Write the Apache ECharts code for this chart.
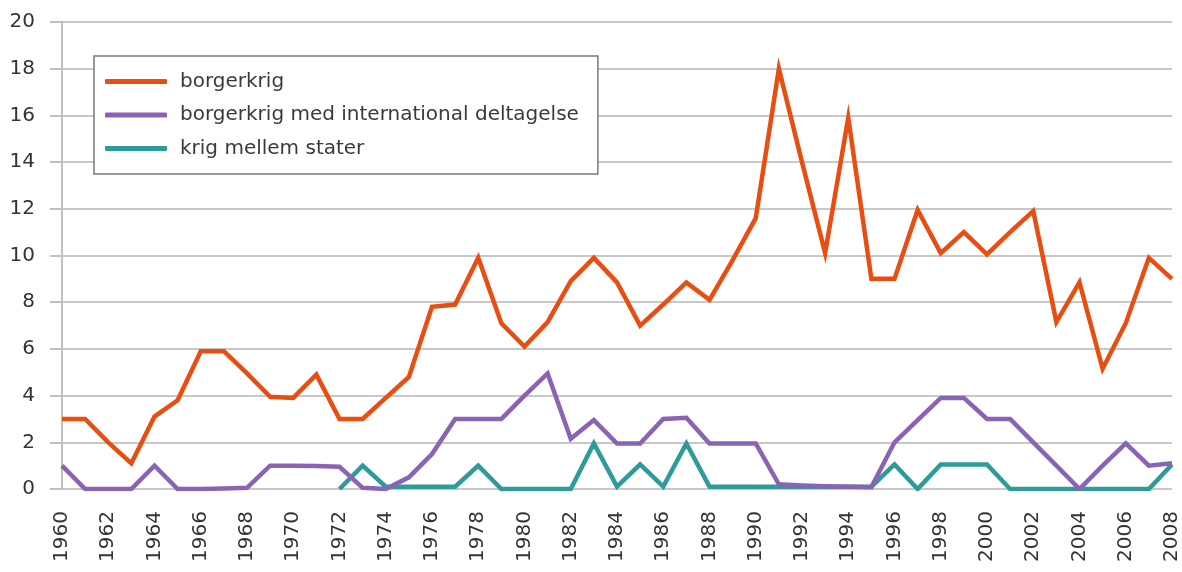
<!DOCTYPE html>
<html>
<head>
<meta charset="utf-8">
<script src="https://cdn.jsdelivr.net/npm/echarts@6/dist/echarts.min.js"></script>
<style>
html, body { margin: 0; padding: 0; background: #fff; }
#main { width: 1182px; height: 572px; }
</style>
</head>
<body>
<div id="main"></div>
<script>
// years 1960..2008
var years = [];
for (var y = 1960; y <= 2008; y++) years.push(String(y));

var borgerkrig = [
	3.0, 3.0, 2.0, 1.1, 3.1, 3.8, 5.9, 5.9, 4.95, 3.95,
	3.9, 4.9, 3.0, 3.0, 3.9, 4.8, 7.8, 7.9, 9.9, 7.1,
	6.1, 7.15, 8.9, 9.9, 8.85, 7.0, 7.9, 8.85, 8.1, 9.8,
	11.6, 18.0, 14.0, 10.1, 15.9, 9.0, 9.0, 11.95, 10.1, 11.0,
	10.05, 11.0, 11.9, 7.15, 8.85, 5.15, 7.1, 9.9, 9.0
];
var medInternational = [
	1.0, 0.0, 0.0, 0.0, 1.0, 0.0, 0.0, 0.02, 0.05, 1.0,
	1.0, 0.98, 0.95, 0.05, 0.0, 0.5, 1.5, 3.0, 3.0, 3.0,
	4.0, 4.95, 2.15, 2.95, 1.95, 1.95, 3.0, 3.05, 1.95, 1.95,
	1.95, 0.2, 0.15, 0.12, 0.1, 0.08, 2.0, 2.95, 3.9, 3.9,
	3.0, 3.0, 2.0, 1.0, 0.0, 1.0, 1.95, 1.0, 1.1
];
var mellemStater = [
	null, null, null, null, null, null, null, null, null, null,
	null, null, 0.0, 1.0, 0.1, 0.1, 0.1, 0.1, 1.0, 0.0,
	0.0, 0.0, 0.0, 1.95, 0.1, 1.05, 0.1, 1.95, 0.1, 0.1,
	0.1, 0.1, 0.1, 0.1, 0.1, 0.1, 1.05, 0.0, 1.05, 1.05,
	1.05, 0.0, 0.0, 0.0, 0.0, 0.0, 0.0, 0.0, 1.05
];
var seriesNames = ['borgerkrig', 'borgerkrig med international deltagelse', 'krig mellem stater'];
var colors = ['#e84e12', '#8a64b4', '#2c9b99'];

var chart = echarts.init(document.getElementById('main'));
var font = 'DejaVu Sans';

var option = {
	animation: false,
	backgroundColor: '#fff',
	color: colors,
	grid: { left: 62, right: 4, top: 22, bottom: 83, containLabel: false },
	legend: {
		data: seriesNames,
		orient: 'vertical',
		left: 94,
		top: 56,
		padding: [15.5, 19, 15.5, 11],
		itemGap: 13.5,
		itemWidth: 62,
		itemHeight: 5,
		icon: 'roundRect',
		backgroundColor: '#fff',
		borderColor: '#7a7a7a',
		borderWidth: 1.5,
		textStyle: { fontFamily: font, fontSize: 20, color: '#3a3a3a', padding: [0, 0, 0, 8] }
	},
	xAxis: {
		type: 'category',
		data: years,
		boundaryGap: false,
		axisLine: { show: false },
		axisTick: { show: false },
		axisLabel: {
			interval: 1,
			rotate: 90,
			margin: 22,
			fontFamily: font,
			fontSize: 20,
			color: '#333'
		},
		splitLine: { show: false }
	},
	yAxis: {
		type: 'value',
		min: 0,
		max: 20,
		interval: 2,
		axisLine: { show: true, lineStyle: { color: '#c0c0c0', width: 2 } },
		axisTick: { show: true, inside: false, length: 12, lineStyle: { color: '#c0c0c0', width: 2 } },
		axisLabel: { margin: 27, fontFamily: font, fontSize: 20, color: '#333' },
		splitLine: { show: true, lineStyle: { color: '#c8c8c8', width: 2 } }
	},
	series: [
		{
			name: seriesNames[0], type: 'line', data: borgerkrig, z: 4,
			showSymbol: false, symbol: 'none',
			lineStyle: { width: 4.5, join: 'miter' }
		},
		{
			name: seriesNames[1], type: 'line', data: medInternational, z: 3,
			showSymbol: false, symbol: 'none',
			lineStyle: { width: 4.5, join: 'miter' }
		},
		{
			name: seriesNames[2], type: 'line', data: mellemStater, z: 2,
			showSymbol: false, symbol: 'none', connectNulls: false,
			lineStyle: { width: 4.5, join: 'miter' }
		}
	]
};
chart.setOption(option);
</script>
</body>
</html>
